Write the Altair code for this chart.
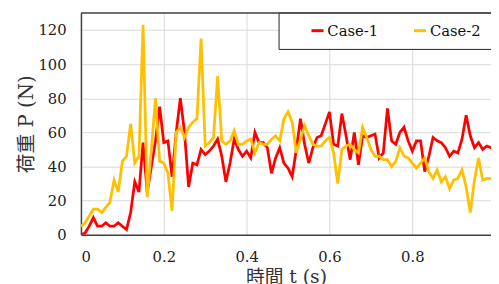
import altair as alt
import pandas as pd

# time axis (s)
t = [round(i * 0.01, 2) for i in range(101)]

case1 = [0, 1, 5, 10, 5, 5, 7, 5, 5, 7,
         5, 3, 13, 31, 25, 54, 25, 40, 55, 75,
         54, 55, 34, 60, 80, 60, 28, 42, 41, 50,
         47, 49, 52, 56, 46, 31, 42, 56, 50, 46,
         49, 45, 60, 54, 54, 51, 36, 45, 51, 42,
         39, 34, 50, 68, 53, 42, 51, 57, 58, 65,
         72, 53, 52, 71, 58, 44, 60, 41, 58, 57,
         58, 59, 45, 48, 74, 55, 53, 60, 63, 55,
         49, 55, 55, 37, 46, 57, 55, 54, 51, 46,
         49, 48, 56, 70, 58, 51, 54, 50, 52, 51,
         49]

case2 = [5, 7, 11, 15, 15, 13, 16, 19, 32, 25,
         43, 46, 65, 42, 46, 123, 22, 50, 80, 43,
         42, 36, 14, 60, 63, 57, 63, 66, 68, 115,
         52, 54, 57, 93, 55, 53, 55, 61, 53, 53,
         55, 56, 48, 54, 53, 53, 56, 58, 55, 68,
         72, 66, 48, 56, 64, 58, 53, 52, 52, 55,
         57, 48, 30, 50, 52, 53, 50, 48, 63, 57,
         50, 46, 46, 44, 44, 40, 43, 51, 46, 45,
         42, 39, 42, 45, 37, 33, 38, 31, 34, 27,
         32, 33, 38, 28, 13, 32, 45, 32, 33, 33,
         34]

series_names = ["Case-1", "Case-2"]
series_colors = ["#FF0000", "#FFC000"]
x_ticks = [0, 0.2, 0.4, 0.6, 0.8, 1.0]
y_ticks = [0, 20, 40, 60, 80, 100, 120]

df = pd.DataFrame({
    "t": t + t,
    "P": case1 + case2,
    "case": [series_names[0]] * len(t) + [series_names[1]] * len(t),
})

SERIF = "DejaVu Serif"
TITLEFONT = "DejaVu Serif, Noto Sans CJK JP"

W, H = 416, 225

lines = alt.Chart(df).mark_line(strokeWidth=2.8, clip=True).encode(
    x=alt.X("t:Q",
            scale=alt.Scale(domain=[0, 0.99], nice=False, zero=False),
            axis=alt.Axis(values=x_ticks, format="~g", title="時間 t (s)",
                          grid=True, gridColor="#D9D9D9", gridWidth=1,
                          ticks=False, tickSize=0, labelPadding=15,
                          labelFont=SERIF, labelFontSize=15, labelColor="#222222",
                          titleFont=TITLEFONT, titleFontSize=19, titleFontWeight="normal",
                          titleColor="#333333", titlePadding=3,
                          domainColor="#404040", domainWidth=1.5)),
    y=alt.Y("P:Q",
            scale=alt.Scale(domain=[0, 130], nice=False),
            axis=alt.Axis(values=y_ticks, title="荷重 P (N)",
                          grid=True, gridColor="#D9D9D9", gridWidth=1,
                          ticks=False, tickSize=0, labelPadding=15,
                          labelFont=SERIF, labelFontSize=15, labelColor="#222222",
                          titleFont=TITLEFONT, titleFontSize=20, titleFontWeight="normal",
                          titleColor="#333333", titlePadding=2,
                          domainColor="#404040", domainWidth=1.5)),
    color=alt.Color("case:N",
                    scale=alt.Scale(domain=series_names, range=series_colors),
                    legend=alt.Legend(orient="none", legendX=232, legendY=10,
                                      direction="horizontal", title=None,
                                      symbolType="stroke", symbolSize=150,
                                      symbolStrokeWidth=3, labelFont=SERIF,
                                      labelFontSize=15, labelColor="#111111",
                                      labelOffset=2, columnPadding=29, padding=0)),
    order="t:Q",
)

one = pd.DataFrame({"a": [0]})

box = alt.Chart(one).mark_rect(fill="white", stroke="#222222", strokeWidth=1).encode(
    x=alt.value(201), x2=alt.value(430), y=alt.value(0), y2=alt.value(37)
)

top = alt.Chart(one).mark_rule(color="#404040", strokeWidth=1.5).encode(
    x=alt.value(0), x2=alt.value(W), y=alt.value(0)
)

chart = alt.layer(lines, box, top).properties(
    width=W, height=H,
    autosize="none",
    padding={"left": 74, "top": 3, "right": 0, "bottom": 50},
).configure_view(stroke=None)

chart.save("out.html", embed_options={"renderer": "svg", "actions": False})
